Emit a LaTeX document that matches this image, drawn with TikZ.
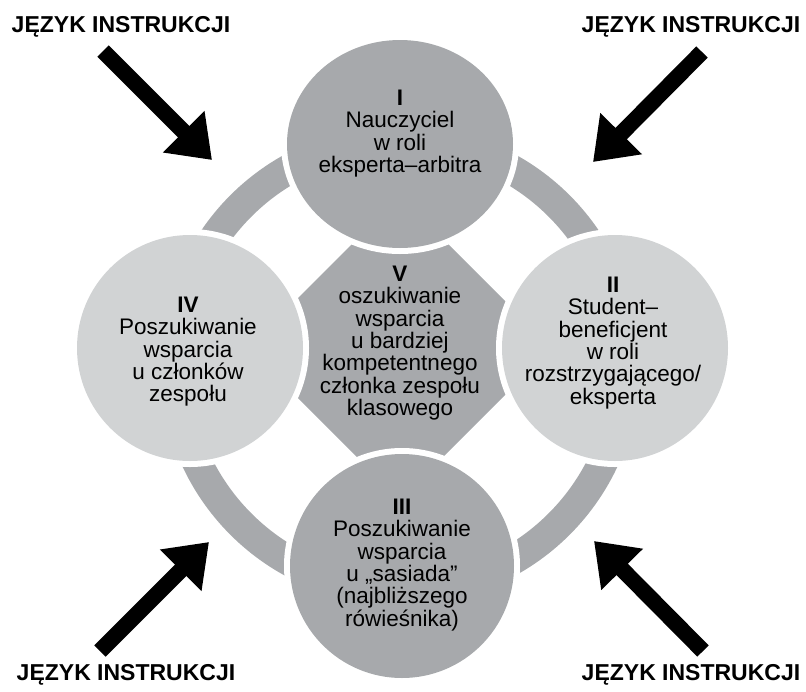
\documentclass[tikz,border=0pt]{standalone}
\usepackage{fontspec}
\setmainfont{Liberation Sans}
\usetikzlibrary{arrows.meta}
\definecolor{midgray}{RGB}{167,169,172}
\definecolor{lightgray}{RGB}{209,211,212}
\begin{document}
\begin{tikzpicture}[x=1pt,y=-1pt,
  ringstyle/.style={draw=midgray,line width=30pt},
  gap/.style={fill=white},
  circtext/.style={anchor=north,align=center,inner sep=0pt,text=black,
    font={\fontsize{22.5}{22.3}\selectfont}},
  titletext/.style={anchor=base,inner sep=0pt,font={\fontsize{23}{26}\selectfont\bfseries}},
  bigarrow/.style={draw=black,line width=16pt,-{Triangle[width=56pt,length=40pt]}}]
\useasboundingbox (0,0) rectangle (806,691);
% ring
\draw[ringstyle] (400,365) circle (225);
% central diamond (V)
\fill[midgray] (400,196) -- (552,348) -- (400,500) -- (248,348) -- cycle;
% circle I (slightly flattened)
\fill[gap] (400,144) ellipse [x radius=119, y radius=110];
\fill[midgray] (400,144) ellipse [x radius=113, y radius=104];
% circle II
\fill[gap] (615,348) circle (119);
\fill[lightgray] (615,348) circle (113);
% circle III
\fill[gap] (402,566) circle (118);
\fill[midgray] (402,566) circle (112);
% circle IV
\fill[gap] (190,348) circle (119);
\fill[lightgray] (190,348) circle (113);
% texts
\node[circtext] (tI) at (400,90) {\textbf{I}\\Nauczyciel\\w roli\\eksperta–arbitra};
\node[circtext] (tII) at (613,277) {\textbf{II}\\Student–\\beneficjent\\w roli\\rozstrzygającego/\\eksperta};
\node[circtext] (tIII) at (402,499) {\textbf{III}\\Poszukiwanie\\wsparcia\\u „sasiada”\\(najbliższego\\rówieśnika)};
\node[circtext] (tIV) at (188,297) {\textbf{IV}\\Poszukiwanie\\wsparcia\\u członków\\zespołu};
\node[circtext] (tV) at (400,266) {\textbf{V}\\oszukiwanie\\wsparcia\\u bardziej\\kompetentnego\\członka zespołu\\klasowego};
% titles
\node[titletext] (jTL) at (121,32) {JĘZYK INSTRUKCJI};
\node[titletext] (jTR) at (691,32) {JĘZYK INSTRUKCJI};
\node[titletext] (jBL) at (126,680) {JĘZYK INSTRUKCJI};
\node[titletext] (jBR) at (691,680) {JĘZYK INSTRUKCJI};
% arrows
\coordinate (aTLs) at (103,51);  \coordinate (aTLe) at (212,160);
\coordinate (aTRs) at (702,52);  \coordinate (aTRe) at (593,162);
\coordinate (aBLs) at (100,651); \coordinate (aBLe) at (209,542);
\coordinate (aBRs) at (703,651); \coordinate (aBRe) at (594,541);
\draw[bigarrow] (aTLs) -- (aTLe);
\draw[bigarrow] (aTRs) -- (aTRe);
\draw[bigarrow] (aBLs) -- (aBLe);
\draw[bigarrow] (aBRs) -- (aBRe);
\end{tikzpicture}
\end{document}
